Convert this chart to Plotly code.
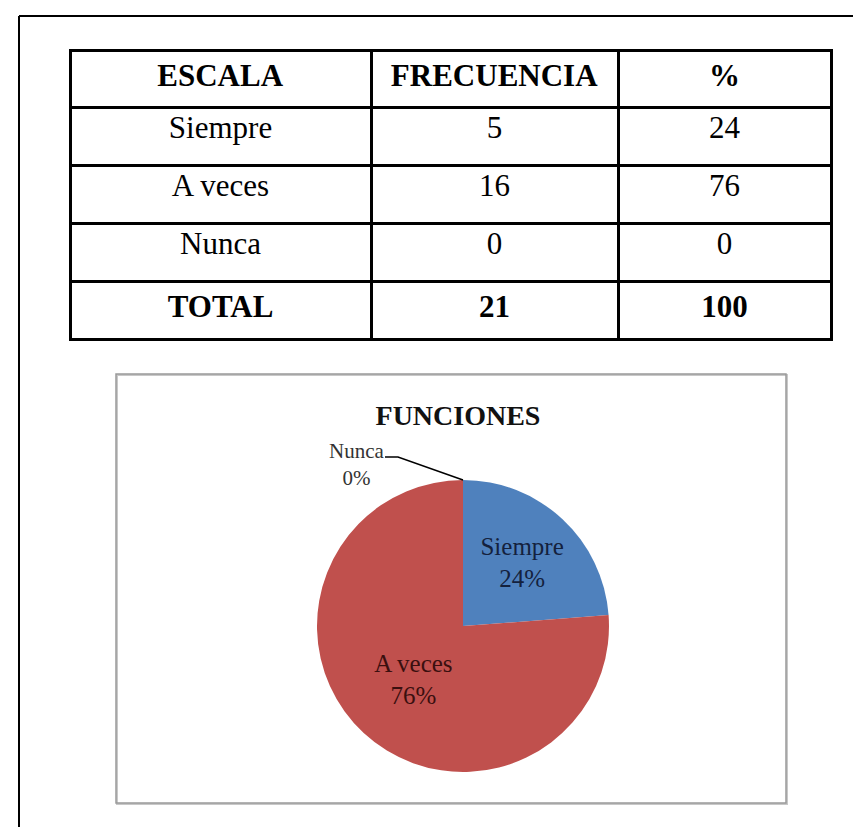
import plotly.graph_objects as go

# datos de la tabla / del grafico
escala = ["Siempre", "A veces", "Nunca"]
frecuencia = [5, 16, 0]
porcentaje = [24, 76, 0]
encabezados = ["ESCALA", "FRECUENCIA", "%"]
titulo = "FUNCIONES"

W, H = 861, 827


def px_x(v):
    return v / W


def px_y(v):
    return 1 - v / H


fuente = "Liberation Serif, Times New Roman, serif"

# columnas de la tabla, con la fila TOTAL en negrita
col_escala = escala + ["<b>TOTAL</b>"]
col_frec = [str(v) for v in frecuencia] + [f"<b>{sum(frecuencia)}</b>"]
col_pct = [str(v) for v in porcentaje] + [f"<b>{sum(porcentaje)}</b>"]

fig = go.Figure()

fig.add_trace(go.Table(
    domain=dict(x=[px_x(62), px_x(823)], y=[px_y(336), px_y(42)]),
    columnwidth=[301, 247, 213],
    header=dict(
        values=[f"<b>{h}</b>" for h in encabezados],
        align="center",
        height=57,
        line=dict(color="black", width=3),
        fill_color="white",
        font=dict(family=fuente, size=31, color="black"),
    ),
    cells=dict(
        values=[col_escala, col_frec, col_pct],
        align="center",
        height=58,
        line=dict(color="black", width=3),
        fill_color="white",
        font=dict(family=fuente, size=31, color="black"),
    ),
))

# pastel
pie_x = [px_x(309), px_x(601)]
pie_y = [px_y(764), px_y(472)]
plantillas = ["%{label}<br>%{percent:.0%}" if v > 0 else "" for v in frecuencia]

fig.add_trace(go.Pie(
    labels=escala,
    values=frecuencia,
    domain=dict(x=pie_x, y=pie_y),
    sort=False,
    direction="clockwise",
    rotation=0,
    marker=dict(colors=["#4F81BD", "#C0504D", "#9BBB59"], line=dict(width=0)),
    texttemplate=plantillas,
    textposition="inside",
    insidetextorientation="horizontal",
    insidetextfont=dict(family=fuente, size=25, color=["#14213d", "#3a0f0f", "#000000"]),
    showlegend=False,
    hoverinfo="label+percent",
))

# etiqueta de Nunca (0%) con linea guia hacia el borde superior del pastel
cx = (pie_x[0] + pie_x[1]) / 2
top = pie_y[1]
fig.add_annotation(
    x=px_x(348), y=px_y(456), xref="paper", yref="paper",
    text=f"{escala[2]}<br>{porcentaje[2]}%",
    showarrow=False,
    font=dict(family=fuente, size=21, color="#333333"),
    align="center",
)
guia = (f"M {px_x(377)},{px_y(449)} L {px_x(390)},{px_y(449)} "
        f"L {cx},{top}")

fig.update_layout(
    width=W, height=H,
    margin=dict(l=0, r=0, t=0, b=0),
    paper_bgcolor="white",
    plot_bgcolor="white",
    title=dict(
        text=f"<b>{titulo}</b>",
        x=px_x(450), y=px_y(407), xanchor="center", yanchor="middle",
        font=dict(family=fuente, size=28, color="#111111"),
    ),
    shapes=[
        # marco exterior (solo arriba e izquierda visibles)
        dict(type="line", xref="paper", yref="paper",
             x0=px_x(11), y0=px_y(8), x1=1, y1=px_y(8),
             line=dict(color="black", width=2)),
        dict(type="line", xref="paper", yref="paper",
             x0=px_x(11), y0=px_y(8), x1=px_x(11), y1=0,
             line=dict(color="black", width=2)),
        # recuadro del grafico (sombra + borde)
        dict(type="rect", xref="paper", yref="paper",
             x0=px_x(109), y0=px_y(796), x1=px_x(779), y1=px_y(367),
             line=dict(color="#c8c8c8", width=2)),
        dict(type="rect", xref="paper", yref="paper",
             x0=px_x(108), y0=px_y(795), x1=px_x(778), y1=px_y(366),
             line=dict(color="#9a9a9a", width=1.5)),
        # linea guia de Nunca
        dict(type="path", xref="paper", yref="paper", path=guia,
             line=dict(color="black", width=1.5)),
    ],
)

fig.write_html("out.html")
